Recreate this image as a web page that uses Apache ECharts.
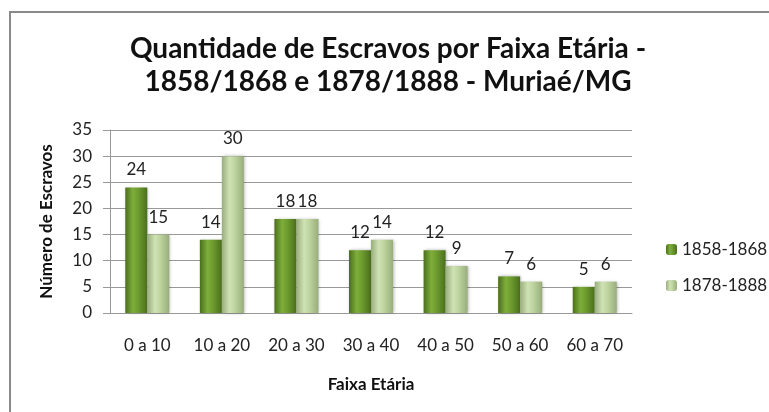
<!DOCTYPE html>
<html>
<head>
<meta charset="utf-8">
<script src="https://cdn.jsdelivr.net/npm/echarts@6/dist/echarts.min.js"></script>
<style>
  html, body { margin: 0; padding: 0; background: #fff; }
  #chart { width: 769px; height: 412px; }
</style>
</head>
<body>
<div id="chart"></div>
<script>
const categories = ['0 a 10', '10 a 20', '20 a 30', '30 a 40', '40 a 50', '50 a 60', '60 a 70'];
const serie1858 = [24, 14, 18, 12, 12, 7, 5];
const serie1878 = [15, 30, 18, 14, 9, 6, 6];
const seriesNames = ['1858-1868', '1878-1888'];

const chart = echarts.init(document.getElementById('chart'));

// gradiente horizontal pra imitar o cilindro do excel
function barFill(edge, mid, light) {
    return new echarts.graphic.LinearGradient(0, 0, 1, 0, [
        { offset: 0, color: edge },
        { offset: 0.35, color: light },
        { offset: 0.6, color: mid },
        { offset: 1, color: edge }
    ]);
}

const darkFill = barFill('#4a6f1c', '#6d9b2e', '#7eae3a');
const lightFill = barFill('#98ad7c', '#bdd39d', '#cfe2b4');

const labelStyle = {
    show: true,
    position: 'top',
    distance: 9,
    fontFamily: 'Lato',
    fontSize: 17,
    color: '#222'
};

const option = {
    animation: false,
    textStyle: { fontFamily: 'Lato' },
    title: {
        text: 'Quantidade de Escravos por Faixa Etária -\n1858/1868 e 1878/1888 - Muriaé/MG',
        left: 383,
        textAlign: 'center',
        top: 27,
        textStyle: {
            fontFamily: 'Lato',
            fontSize: 28,
            fontWeight: 'bold',
            color: '#111',
            lineHeight: 33
        }
    },
    graphic: [{
        type: 'rect',
        shape: { x: 10, y: 12, width: 780, height: 420 },
        style: { fill: 'none', stroke: '#8a8a8a', lineWidth: 2 },
        silent: true
    }],
    legend: {
        orient: 'vertical',
        left: 661,
        top: 236,
        itemWidth: 11,
        itemHeight: 11,
        itemGap: 19,
        textStyle: { fontSize: 17, color: '#222', fontFamily: 'Lato' },
        data: seriesNames
    },
    grid: {
        left: 110,
        right: 137,
        top: 130,
        bottom: 99
    },
    xAxis: {
        type: 'category',
        data: categories,
        name: 'Faixa Etária',
        nameLocation: 'middle',
        nameGap: 63,
        nameTextStyle: { fontWeight: 'bold', fontSize: 17, color: '#111' },
        axisLine: { lineStyle: { color: '#999' } },
        axisTick: { show: false },
        axisLabel: { fontSize: 17, color: '#222', margin: 24 }
    },
    yAxis: {
        type: 'value',
        min: 0,
        max: 35,
        interval: 5,
        name: 'Número de Escravos',
        nameLocation: 'middle',
        nameGap: 55,
        nameTextStyle: { fontWeight: 'bold', fontSize: 17, color: '#111' },
        axisLine: { show: true, lineStyle: { color: '#999' } },
        axisTick: { show: true, length: 7, lineStyle: { color: '#999' } },
        axisLabel: { fontSize: 17, color: '#222', margin: 18 },
        splitLine: { lineStyle: { color: '#999' } }
    },
    series: [
        {
            name: seriesNames[0],
            type: 'bar',
            data: serie1858,
            barWidth: 22,
            barGap: '0%',
            itemStyle: { color: darkFill, shadowColor: 'rgba(0,0,0,0.3)', shadowBlur: 3, shadowOffsetX: 1 },
            label: labelStyle
        },
        {
            name: seriesNames[1],
            type: 'bar',
            data: serie1878,
            barWidth: 22,
            barGap: '0%',
            itemStyle: { color: lightFill, shadowColor: 'rgba(0,0,0,0.3)', shadowBlur: 3, shadowOffsetX: 1 },
            label: labelStyle
        }
    ]
};

chart.setOption(option);
window.addEventListener('resize', function () {
    chart.resize();
});
</script>
</body>
</html>
